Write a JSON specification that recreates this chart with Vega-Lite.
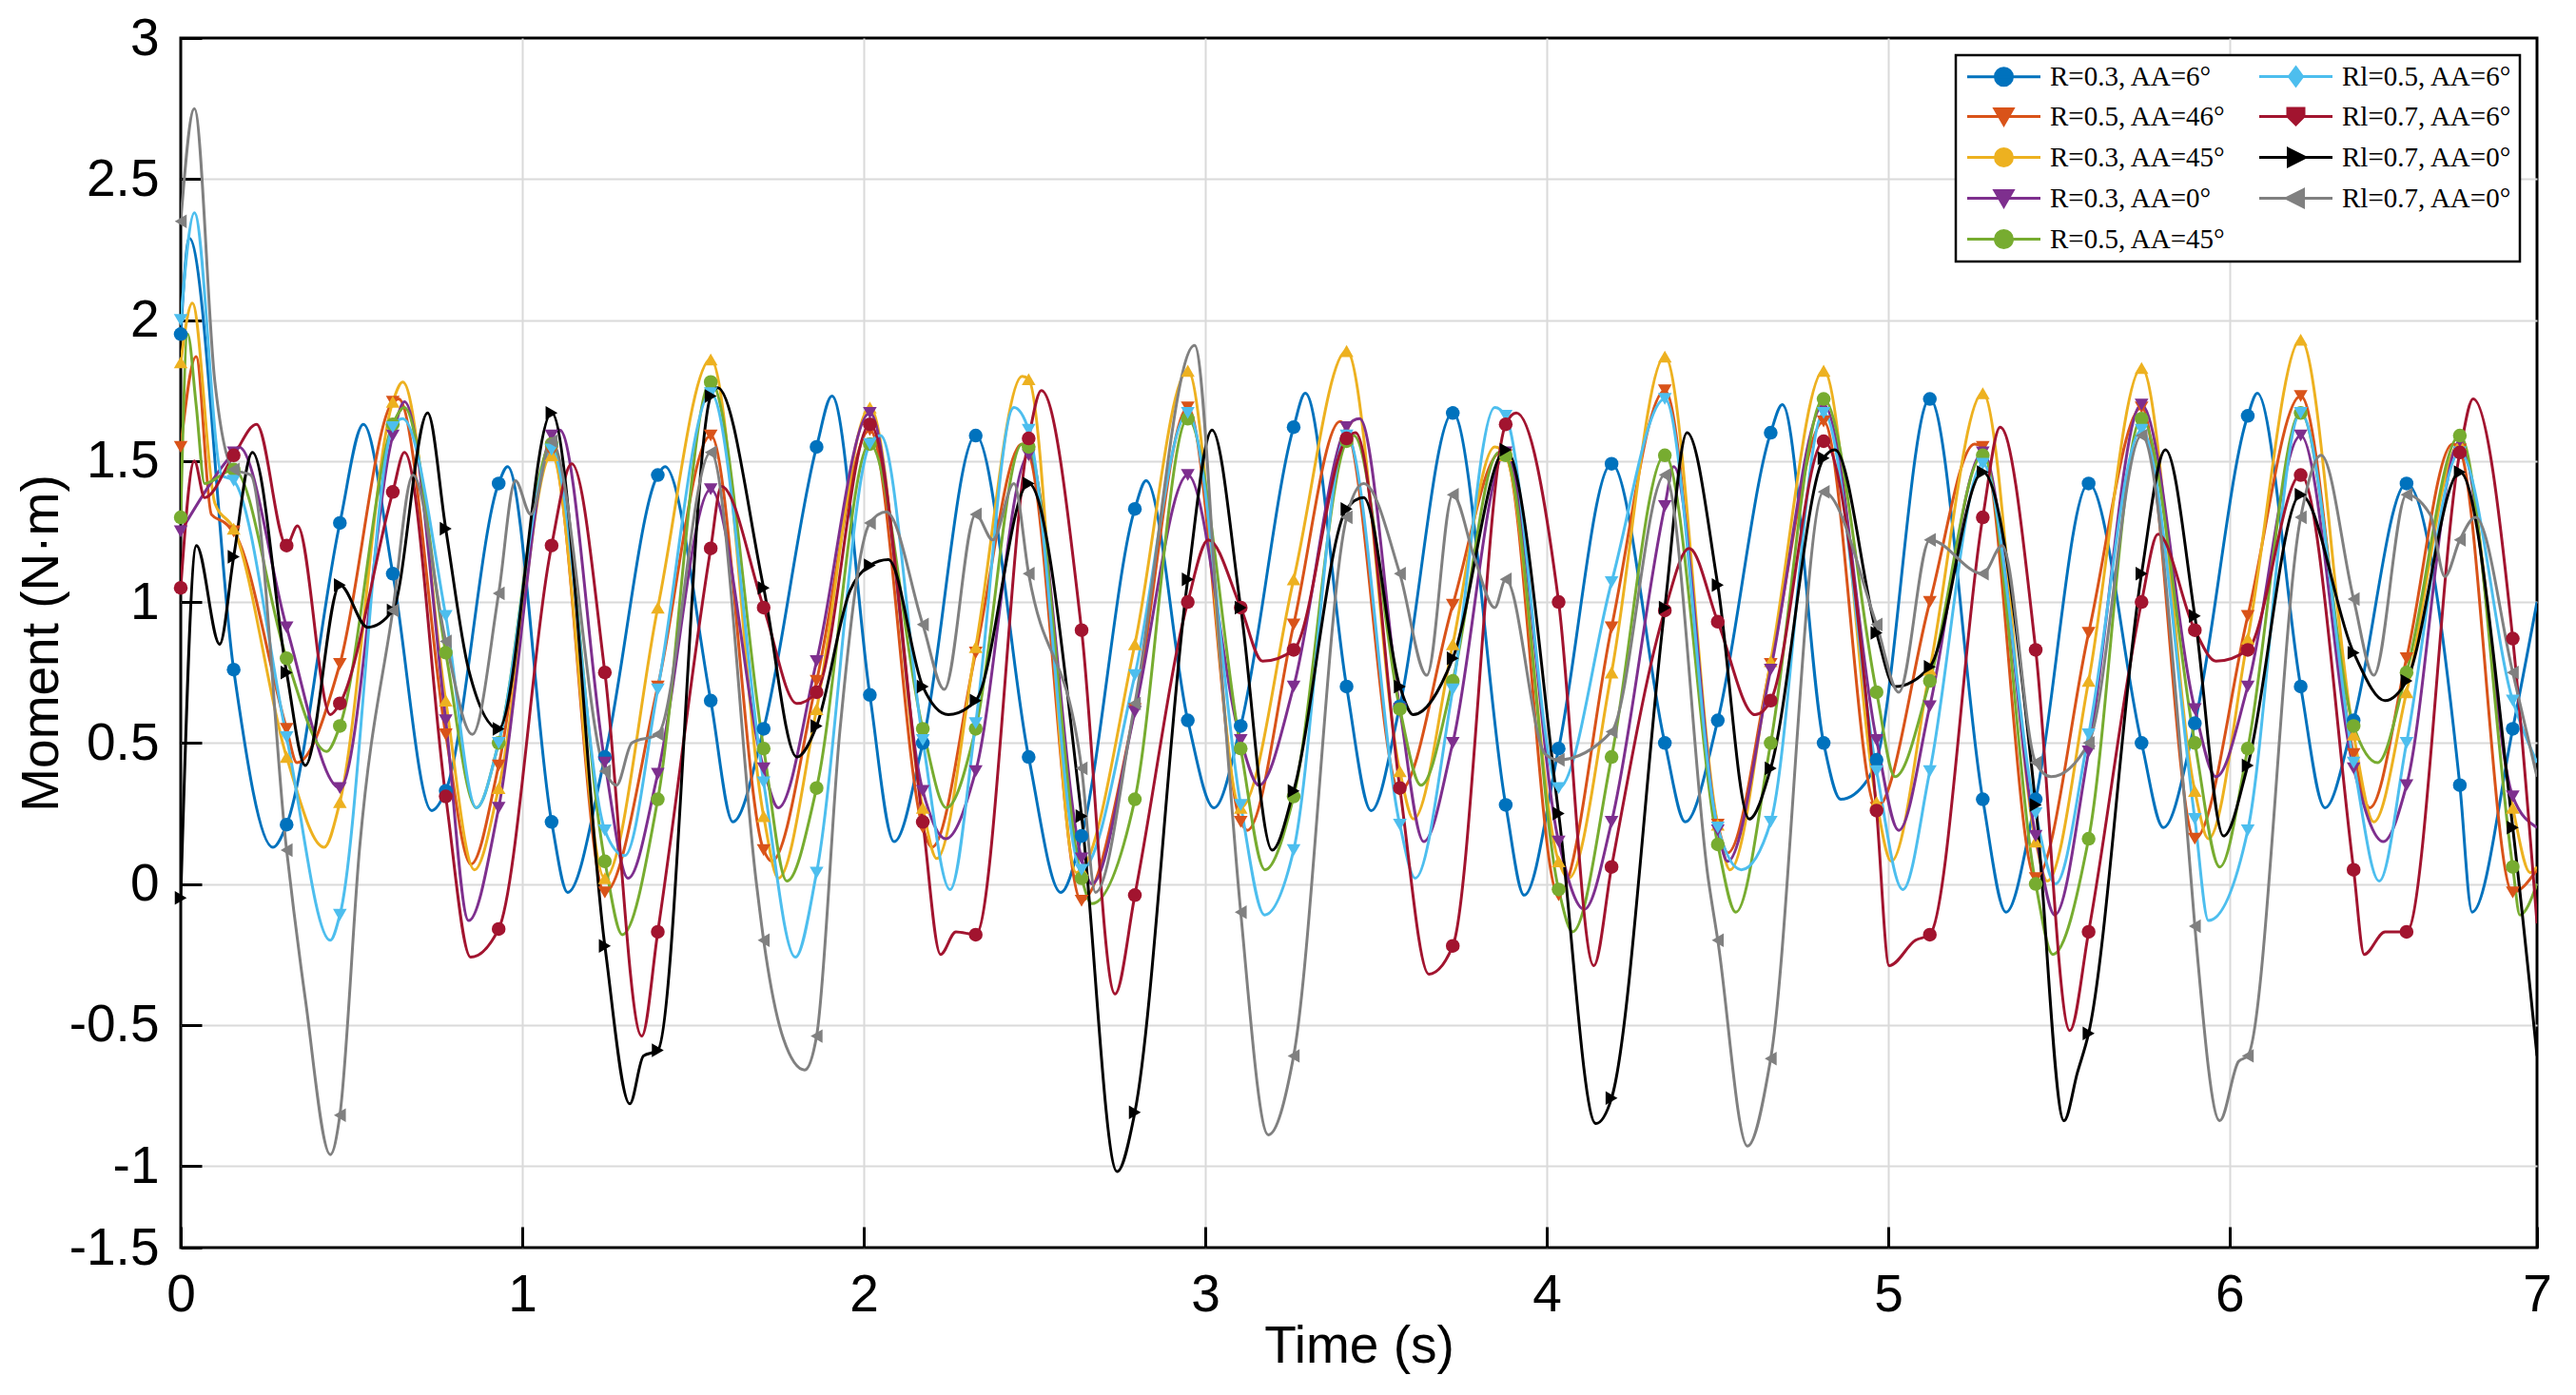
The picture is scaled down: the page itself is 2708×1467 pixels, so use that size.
{
  "$schema": "https://vega.github.io/schema/vega-lite/v6.json",
  "description": "Moment vs time for nine rotor configurations, line + marker series.",
  "width": 2477,
  "height": 1272,
  "autosize": {"type": "none"},
  "padding": {"left": 190, "top": 40, "right": 41, "bottom": 155},
  "background": "white",
  "config": {
    "view": {"stroke": "black", "strokeWidth": 3},
    "axis": {
      "domain": false,
      "grid": true,
      "gridColor": "#dadada",
      "gridWidth": 2,
      "tickColor": "black",
      "tickWidth": 3,
      "tickSize": -22,
      "labelFont": "Liberation Sans",
      "labelFontSize": 55,
      "labelColor": "black",
      "labelPadding": 45,
      "labelFlush": false,
      "labelOverlap": false,
      "titleFont": "Liberation Sans",
      "titleFontSize": 55,
      "titleFontWeight": "normal",
      "titleColor": "black",
      "titlePadding": 0
    },
    "legend": {
      "orient": "top-right",
      "offset": 18,
      "columns": 2,
      "padding": 8,
      "rowPadding": 12,
      "columnPadding": 28,
      "labelFont": "Liberation Serif",
      "labelFontSize": 29,
      "labelColor": "black",
      "labelLimit": 0,
      "symbolSize": 400,
      "symbolStrokeWidth": 3,
      "symbolOffset": 28,
      "labelOffset": 34,
      "strokeColor": "black",
      "strokeWidth": 2.5,
      "fillColor": "white"
    }
  },
  "datasets": {
    "curves": [
      {"s":"a","t":0,"v":1.95},{"s":"a","t":0.025,"v":2.29},{"s":"a","t":0.155,"v":0.76},{"s":"a","t":0.27,"v":0.13},{"s":"a","t":0.31,"v":0.21},{"s":"a","t":0.466,"v":1.28},{"s":"a","t":0.535,"v":1.63},{"s":"a","t":0.621,"v":1.10},{"s":"a","t":0.735,"v":0.26},{"s":"a","t":0.776,"v":0.33},{"s":"a","t":0.931,"v":1.42},{"s":"a","t":0.957,"v":1.48},{"s":"a","t":1.086,"v":0.22},{"s":"a","t":1.133,"v":-0.03},{"s":"a","t":1.242,"v":0.45},{"s":"a","t":1.397,"v":1.45},{"s":"a","t":1.418,"v":1.48},{"s":"a","t":1.552,"v":0.65},{"s":"a","t":1.617,"v":0.22},{"s":"a","t":1.707,"v":0.55},{"s":"a","t":1.862,"v":1.55},{"s":"a","t":1.907,"v":1.73},{"s":"a","t":2.018,"v":0.67},{"s":"a","t":2.089,"v":0.15},{"s":"a","t":2.173,"v":0.50},{"s":"a","t":2.328,"v":1.59},{"s":"a","t":2.483,"v":0.45},{"s":"a","t":2.577,"v":-0.03},{"s":"a","t":2.638,"v":0.17},{"s":"a","t":2.794,"v":1.33},{"s":"a","t":2.827,"v":1.43},{"s":"a","t":2.949,"v":0.58},{"s":"a","t":3.026,"v":0.27},{"s":"a","t":3.104,"v":0.56},{"s":"a","t":3.259,"v":1.62},{"s":"a","t":3.293,"v":1.74},{"s":"a","t":3.414,"v":0.70},{"s":"a","t":3.486,"v":0.26},{"s":"a","t":3.57,"v":0.63},{"s":"a","t":3.725,"v":1.67},{"s":"a","t":3.88,"v":0.28},{"s":"a","t":3.934,"v":-0.04},{"s":"a","t":4.035,"v":0.48},{"s":"a","t":4.19,"v":1.49},{"s":"a","t":4.346,"v":0.50},{"s":"a","t":4.406,"v":0.22},{"s":"a","t":4.501,"v":0.58},{"s":"a","t":4.656,"v":1.60},{"s":"a","t":4.69,"v":1.70},{"s":"a","t":4.811,"v":0.50},{"s":"a","t":4.861,"v":0.30},{"s":"a","t":4.94,"v":0.37},{"s":"a","t":4.966,"v":0.44},{"s":"a","t":5.122,"v":1.72},{"s":"a","t":5.277,"v":0.30},{"s":"a","t":5.345,"v":-0.10},{"s":"a","t":5.432,"v":0.30},{"s":"a","t":5.587,"v":1.42},{"s":"a","t":5.742,"v":0.50},{"s":"a","t":5.806,"v":0.20},{"s":"a","t":5.898,"v":0.57},{"s":"a","t":6.053,"v":1.66},{"s":"a","t":6.081,"v":1.74},{"s":"a","t":6.208,"v":0.70},{"s":"a","t":6.279,"v":0.27},{"s":"a","t":6.363,"v":0.58},{"s":"a","t":6.518,"v":1.42},{"s":"a","t":6.674,"v":0.35},{"s":"a","t":6.71,"v":-0.10},{"s":"a","t":6.829,"v":0.55},{"s":"a","t":6.9,"v":1.0},
      {"s":"c","t":0,"v":1.55},{"s":"c","t":0.045,"v":1.87},{"s":"c","t":0.09,"v":1.31},{"s":"c","t":0.13,"v":1.28},{"s":"c","t":0.155,"v":1.25},{"s":"c","t":0.31,"v":0.55},{"s":"c","t":0.34,"v":0.43},{"s":"c","t":0.466,"v":0.78},{"s":"c","t":0.621,"v":1.71},{"s":"c","t":0.638,"v":1.72},{"s":"c","t":0.776,"v":0.53},{"s":"c","t":0.85,"v":0.07},{"s":"c","t":0.931,"v":0.42},{"s":"c","t":1.086,"v":1.53},{"s":"c","t":1.242,"v":-0.03},{"s":"c","t":1.397,"v":0.70},{"s":"c","t":1.552,"v":1.59},{"s":"c","t":1.707,"v":0.12},{"s":"c","t":1.73,"v":0.08},{"s":"c","t":1.862,"v":0.72},{"s":"c","t":2.018,"v":1.61},{"s":"c","t":2.173,"v":0.20},{"s":"c","t":2.2,"v":0.13},{"s":"c","t":2.328,"v":0.82},{"s":"c","t":2.463,"v":1.56},{"s":"c","t":2.483,"v":1.53},{"s":"c","t":2.638,"v":-0.06},{"s":"c","t":2.794,"v":0.62},{"s":"c","t":2.949,"v":1.69},{"s":"c","t":3.104,"v":0.22},{"s":"c","t":3.123,"v":0.19},{"s":"c","t":3.259,"v":0.92},{"s":"c","t":3.395,"v":1.64},{"s":"c","t":3.414,"v":1.62},{"s":"c","t":3.57,"v":0.33},{"s":"c","t":3.725,"v":0.99},{"s":"c","t":3.865,"v":1.53},{"s":"c","t":3.88,"v":1.52},{"s":"c","t":4.035,"v":-0.04},{"s":"c","t":4.19,"v":0.91},{"s":"c","t":4.346,"v":1.75},{"s":"c","t":4.501,"v":0.21},{"s":"c","t":4.53,"v":0.11},{"s":"c","t":4.656,"v":0.78},{"s":"c","t":4.811,"v":1.64},{"s":"c","t":4.966,"v":0.27},{"s":"c","t":5.122,"v":1.00},{"s":"c","t":5.253,"v":1.56},{"s":"c","t":5.277,"v":1.55},{"s":"c","t":5.432,"v":0.02},{"s":"c","t":5.587,"v":0.89},{"s":"c","t":5.742,"v":1.69},{"s":"c","t":5.898,"v":0.16},{"s":"c","t":6.053,"v":0.95},{"s":"c","t":6.208,"v":1.73},{"s":"c","t":6.363,"v":0.46},{"s":"c","t":6.41,"v":0.27},{"s":"c","t":6.518,"v":0.80},{"s":"c","t":6.653,"v":1.56},{"s":"c","t":6.674,"v":1.54},{"s":"c","t":6.829,"v":-0.03},{"s":"c","t":6.9,"v":0.05},
      {"s":"e","t":0,"v":1.85},{"s":"e","t":0.034,"v":2.06},{"s":"e","t":0.1,"v":1.35},{"s":"e","t":0.155,"v":1.26},{"s":"e","t":0.31,"v":0.45},{"s":"e","t":0.42,"v":0.13},{"s":"e","t":0.466,"v":0.29},{"s":"e","t":0.621,"v":1.71},{"s":"e","t":0.65,"v":1.78},{"s":"e","t":0.776,"v":0.65},{"s":"e","t":0.86,"v":0.05},{"s":"e","t":0.931,"v":0.34},{"s":"e","t":1.086,"v":1.52},{"s":"e","t":1.242,"v":0.02},{"s":"e","t":1.397,"v":0.98},{"s":"e","t":1.552,"v":1.86},{"s":"e","t":1.707,"v":0.24},{"s":"e","t":1.75,"v":0.02},{"s":"e","t":1.862,"v":0.62},{"s":"e","t":2.018,"v":1.69},{"s":"e","t":2.173,"v":0.27},{"s":"e","t":2.214,"v":0.09},{"s":"e","t":2.328,"v":0.84},{"s":"e","t":2.464,"v":1.80},{"s":"e","t":2.483,"v":1.79},{"s":"e","t":2.623,"v":0.04},{"s":"e","t":2.638,"v":0.05},{"s":"e","t":2.794,"v":0.85},{"s":"e","t":2.949,"v":1.82},{"s":"e","t":3.104,"v":0.27},{"s":"e","t":3.259,"v":1.08},{"s":"e","t":3.414,"v":1.89},{"s":"e","t":3.57,"v":0.40},{"s":"e","t":3.61,"v":0.23},{"s":"e","t":3.725,"v":0.85},{"s":"e","t":3.848,"v":1.55},{"s":"e","t":3.88,"v":1.52},{"s":"e","t":4.035,"v":0.08},{"s":"e","t":4.064,"v":0.02},{"s":"e","t":4.19,"v":0.75},{"s":"e","t":4.346,"v":1.87},{"s":"e","t":4.501,"v":0.21},{"s":"e","t":4.537,"v":0.05},{"s":"e","t":4.656,"v":0.79},{"s":"e","t":4.811,"v":1.82},{"s":"e","t":4.966,"v":0.29},{"s":"e","t":5.009,"v":0.08},{"s":"e","t":5.122,"v":0.76},{"s":"e","t":5.277,"v":1.74},{"s":"e","t":5.432,"v":0.15},{"s":"e","t":5.466,"v":0.01},{"s":"e","t":5.587,"v":0.72},{"s":"e","t":5.742,"v":1.83},{"s":"e","t":5.898,"v":0.33},{"s":"e","t":5.938,"v":0.16},{"s":"e","t":6.053,"v":0.87},{"s":"e","t":6.208,"v":1.93},{"s":"e","t":6.363,"v":0.53},{"s":"e","t":6.422,"v":0.22},{"s":"e","t":6.518,"v":0.68},{"s":"e","t":6.674,"v":1.56},{"s":"e","t":6.829,"v":0.27},{"s":"e","t":6.88,"v":0.04},{"s":"e","t":6.9,"v":0.06},
      {"s":"g","t":0,"v":1.25},{"s":"g","t":0.155,"v":1.53},{"s":"g","t":0.17,"v":1.55},{"s":"g","t":0.31,"v":0.91},{"s":"g","t":0.466,"v":0.34},{"s":"g","t":0.621,"v":1.59},{"s":"g","t":0.655,"v":1.71},{"s":"g","t":0.776,"v":0.58},{"s":"g","t":0.843,"v":-0.13},{"s":"g","t":0.931,"v":0.27},{"s":"g","t":1.086,"v":1.59},{"s":"g","t":1.11,"v":1.61},{"s":"g","t":1.242,"v":0.43},{"s":"g","t":1.31,"v":0.02},{"s":"g","t":1.397,"v":0.39},{"s":"g","t":1.552,"v":1.40},{"s":"g","t":1.707,"v":0.41},{"s":"g","t":1.75,"v":0.27},{"s":"g","t":1.862,"v":0.79},{"s":"g","t":2.018,"v":1.67},{"s":"g","t":2.173,"v":0.33},{"s":"g","t":2.24,"v":0.16},{"s":"g","t":2.328,"v":0.40},{"s":"g","t":2.483,"v":1.52},{"s":"g","t":2.638,"v":0.09},{"s":"g","t":2.668,"v":0.0},{"s":"g","t":2.794,"v":0.61},{"s":"g","t":2.949,"v":1.45},{"s":"g","t":3.104,"v":0.51},{"s":"g","t":3.157,"v":0.35},{"s":"g","t":3.259,"v":0.70},{"s":"g","t":3.414,"v":1.62},{"s":"g","t":3.452,"v":1.65},{"s":"g","t":3.57,"v":0.62},{"s":"g","t":3.64,"v":0.15},{"s":"g","t":3.725,"v":0.50},{"s":"g","t":3.88,"v":1.53},{"s":"g","t":4.035,"v":0.15},{"s":"g","t":4.11,"v":-0.09},{"s":"g","t":4.19,"v":0.22},{"s":"g","t":4.346,"v":1.34},{"s":"g","t":4.372,"v":1.48},{"s":"g","t":4.501,"v":0.19},{"s":"g","t":4.53,"v":0.08},{"s":"g","t":4.656,"v":0.76},{"s":"g","t":4.811,"v":1.70},{"s":"g","t":4.966,"v":0.51},{"s":"g","t":5.031,"v":0.19},{"s":"g","t":5.122,"v":0.63},{"s":"g","t":5.277,"v":1.53},{"s":"g","t":5.432,"v":0.17},{"s":"g","t":5.488,"v":-0.11},{"s":"g","t":5.587,"v":0.47},{"s":"g","t":5.742,"v":1.70},{"s":"g","t":5.898,"v":0.62},{"s":"g","t":5.96,"v":0.38},{"s":"g","t":6.053,"v":0.70},{"s":"g","t":6.208,"v":1.59},{"s":"g","t":6.363,"v":0.41},{"s":"g","t":6.45,"v":0.15},{"s":"g","t":6.518,"v":0.35},{"s":"g","t":6.674,"v":1.57},{"s":"g","t":6.829,"v":0.31},{"s":"g","t":6.9,"v":0.20},
      {"s":"i","t":0,"v":1.30},{"s":"i","t":0.02,"v":1.95},{"s":"i","t":0.045,"v":1.70},{"s":"i","t":0.07,"v":1.42},{"s":"i","t":0.155,"v":1.47},{"s":"i","t":0.31,"v":0.80},{"s":"i","t":0.427,"v":0.47},{"s":"i","t":0.466,"v":0.56},{"s":"i","t":0.621,"v":1.63},{"s":"i","t":0.655,"v":1.69},{"s":"i","t":0.776,"v":0.82},{"s":"i","t":0.866,"v":0.27},{"s":"i","t":0.931,"v":0.50},{"s":"i","t":1.086,"v":1.56},{"s":"i","t":1.242,"v":0.08},{"s":"i","t":1.293,"v":-0.18},{"s":"i","t":1.397,"v":0.30},{"s":"i","t":1.552,"v":1.78},{"s":"i","t":1.707,"v":0.48},{"s":"i","t":1.775,"v":0.01},{"s":"i","t":1.862,"v":0.34},{"s":"i","t":2.018,"v":1.56},{"s":"i","t":2.173,"v":0.55},{"s":"i","t":2.242,"v":0.27},{"s":"i","t":2.328,"v":0.55},{"s":"i","t":2.464,"v":1.56},{"s":"i","t":2.483,"v":1.55},{"s":"i","t":2.638,"v":0.02},{"s":"i","t":2.668,"v":-0.07},{"s":"i","t":2.794,"v":0.30},{"s":"i","t":2.949,"v":1.65},{"s":"i","t":3.104,"v":0.48},{"s":"i","t":3.175,"v":0.05},{"s":"i","t":3.259,"v":0.31},{"s":"i","t":3.414,"v":1.57},{"s":"i","t":3.435,"v":1.59},{"s":"i","t":3.57,"v":0.62},{"s":"i","t":3.632,"v":0.35},{"s":"i","t":3.725,"v":0.72},{"s":"i","t":3.86,"v":1.53},{"s":"i","t":3.88,"v":1.52},{"s":"i","t":4.035,"v":-0.02},{"s":"i","t":4.076,"v":-0.17},{"s":"i","t":4.19,"v":0.45},{"s":"i","t":4.346,"v":1.52},{"s":"i","t":4.501,"v":0.14},{"s":"i","t":4.554,"v":-0.10},{"s":"i","t":4.656,"v":0.50},{"s":"i","t":4.811,"v":1.72},{"s":"i","t":4.966,"v":0.68},{"s":"i","t":5.02,"v":0.38},{"s":"i","t":5.122,"v":0.72},{"s":"i","t":5.277,"v":1.52},{"s":"i","t":5.432,"v":0.00},{"s":"i","t":5.482,"v":-0.25},{"s":"i","t":5.587,"v":0.16},{"s":"i","t":5.742,"v":1.65},{"s":"i","t":5.898,"v":0.50},{"s":"i","t":5.971,"v":0.06},{"s":"i","t":6.053,"v":0.48},{"s":"i","t":6.208,"v":1.67},{"s":"i","t":6.363,"v":0.56},{"s":"i","t":6.433,"v":0.43},{"s":"i","t":6.518,"v":0.75},{"s":"i","t":6.674,"v":1.59},{"s":"i","t":6.829,"v":0.06},{"s":"i","t":6.85,"v":-0.11},{"s":"i","t":6.9,"v":0.0},
      {"s":"b","t":0,"v":2.0},{"s":"b","t":0.04,"v":2.38},{"s":"b","t":0.12,"v":1.45},{"s":"b","t":0.155,"v":1.43},{"s":"b","t":0.31,"v":0.52},{"s":"b","t":0.438,"v":-0.20},{"s":"b","t":0.466,"v":-0.11},{"s":"b","t":0.621,"v":1.62},{"s":"b","t":0.65,"v":1.65},{"s":"b","t":0.776,"v":0.95},{"s":"b","t":0.866,"v":0.27},{"s":"b","t":0.931,"v":0.50},{"s":"b","t":1.086,"v":1.54},{"s":"b","t":1.242,"v":0.19},{"s":"b","t":1.30,"v":0.10},{"s":"b","t":1.397,"v":0.69},{"s":"b","t":1.552,"v":1.74},{"s":"b","t":1.707,"v":0.36},{"s":"b","t":1.80,"v":-0.26},{"s":"b","t":1.862,"v":0.04},{"s":"b","t":2.018,"v":1.56},{"s":"b","t":2.049,"v":1.59},{"s":"b","t":2.173,"v":0.51},{"s":"b","t":2.253,"v":-0.02},{"s":"b","t":2.328,"v":0.57},{"s":"b","t":2.44,"v":1.69},{"s":"b","t":2.483,"v":1.61},{"s":"b","t":2.638,"v":0.05},{"s":"b","t":2.794,"v":0.74},{"s":"b","t":2.949,"v":1.67},{"s":"b","t":3.104,"v":0.28},{"s":"b","t":3.174,"v":-0.11},{"s":"b","t":3.259,"v":0.12},{"s":"b","t":3.414,"v":1.59},{"s":"b","t":3.57,"v":0.21},{"s":"b","t":3.615,"v":0.02},{"s":"b","t":3.725,"v":0.69},{"s":"b","t":3.848,"v":1.69},{"s":"b","t":3.88,"v":1.66},{"s":"b","t":4.035,"v":0.34},{"s":"b","t":4.19,"v":1.07},{"s":"b","t":4.346,"v":1.72},{"s":"b","t":4.501,"v":0.20},{"s":"b","t":4.57,"v":0.05},{"s":"b","t":4.656,"v":0.22},{"s":"b","t":4.811,"v":1.67},{"s":"b","t":4.966,"v":0.40},{"s":"b","t":5.043,"v":-0.02},{"s":"b","t":5.122,"v":0.40},{"s":"b","t":5.277,"v":1.49},{"s":"b","t":5.432,"v":0.25},{"s":"b","t":5.49,"v":0.00},{"s":"b","t":5.587,"v":0.53},{"s":"b","t":5.742,"v":1.61},{"s":"b","t":5.898,"v":0.23},{"s":"b","t":5.938,"v":-0.13},{"s":"b","t":6.053,"v":0.19},{"s":"b","t":6.208,"v":1.67},{"s":"b","t":6.363,"v":0.43},{"s":"b","t":6.438,"v":0.01},{"s":"b","t":6.518,"v":0.50},{"s":"b","t":6.674,"v":1.53},{"s":"b","t":6.829,"v":0.65},{"s":"b","t":6.9,"v":0.43},
      {"s":"d","t":0,"v":1.05},{"s":"d","t":0.04,"v":1.50},{"s":"d","t":0.07,"v":1.37},{"s":"d","t":0.155,"v":1.52},{"s":"d","t":0.222,"v":1.63},{"s":"d","t":0.31,"v":1.20},{"s":"d","t":0.342,"v":1.27},{"s":"d","t":0.438,"v":0.60},{"s":"d","t":0.466,"v":0.64},{"s":"d","t":0.621,"v":1.39},{"s":"d","t":0.655,"v":1.53},{"s":"d","t":0.776,"v":0.31},{"s":"d","t":0.849,"v":-0.26},{"s":"d","t":0.931,"v":-0.16},{"s":"d","t":1.086,"v":1.20},{"s":"d","t":1.145,"v":1.49},{"s":"d","t":1.242,"v":0.75},{"s":"d","t":1.35,"v":-0.54},{"s":"d","t":1.397,"v":-0.17},{"s":"d","t":1.552,"v":1.19},{"s":"d","t":1.583,"v":1.41},{"s":"d","t":1.707,"v":0.98},{"s":"d","t":1.804,"v":0.64},{"s":"d","t":1.862,"v":0.68},{"s":"d","t":2.018,"v":1.63},{"s":"d","t":2.173,"v":0.22},{"s":"d","t":2.225,"v":-0.25},{"s":"d","t":2.27,"v":-0.17},{"s":"d","t":2.328,"v":-0.18},{"s":"d","t":2.483,"v":1.58},{"s":"d","t":2.52,"v":1.75},{"s":"d","t":2.638,"v":0.90},{"s":"d","t":2.736,"v":-0.39},{"s":"d","t":2.794,"v":-0.04},{"s":"d","t":2.949,"v":1.00},{"s":"d","t":3.009,"v":1.22},{"s":"d","t":3.104,"v":0.98},{"s":"d","t":3.168,"v":0.79},{"s":"d","t":3.259,"v":0.83},{"s":"d","t":3.414,"v":1.58},{"s":"d","t":3.44,"v":1.60},{"s":"d","t":3.57,"v":0.34},{"s":"d","t":3.655,"v":-0.32},{"s":"d","t":3.725,"v":-0.22},{"s":"d","t":3.88,"v":1.63},{"s":"d","t":3.911,"v":1.67},{"s":"d","t":4.035,"v":1.00},{"s":"d","t":4.138,"v":-0.29},{"s":"d","t":4.19,"v":0.06},{"s":"d","t":4.346,"v":0.97},{"s":"d","t":4.417,"v":1.19},{"s":"d","t":4.501,"v":0.93},{"s":"d","t":4.61,"v":0.60},{"s":"d","t":4.656,"v":0.65},{"s":"d","t":4.811,"v":1.57},{"s":"d","t":4.966,"v":0.26},{"s":"d","t":5.003,"v":-0.29},{"s":"d","t":5.08,"v":-0.20},{"s":"d","t":5.122,"v":-0.18},{"s":"d","t":5.277,"v":1.30},{"s":"d","t":5.328,"v":1.62},{"s":"d","t":5.432,"v":0.83},{"s":"d","t":5.532,"v":-0.52},{"s":"d","t":5.587,"v":-0.17},{"s":"d","t":5.742,"v":1.00},{"s":"d","t":5.79,"v":1.24},{"s":"d","t":5.898,"v":0.90},{"s":"d","t":5.96,"v":0.79},{"s":"d","t":6.053,"v":0.83},{"s":"d","t":6.208,"v":1.45},{"s":"d","t":6.363,"v":0.05},{"s":"d","t":6.394,"v":-0.25},{"s":"d","t":6.455,"v":-0.17},{"s":"d","t":6.518,"v":-0.17},{"s":"d","t":6.674,"v":1.53},{"s":"d","t":6.713,"v":1.72},{"s":"d","t":6.829,"v":0.87},{"s":"d","t":6.9,"v":-0.14},
      {"s":"f","t":0,"v":-0.05},{"s":"f","t":0.046,"v":1.20},{"s":"f","t":0.114,"v":0.85},{"s":"f","t":0.155,"v":1.16},{"s":"f","t":0.21,"v":1.53},{"s":"f","t":0.31,"v":0.75},{"s":"f","t":0.365,"v":0.42},{"s":"f","t":0.466,"v":1.06},{"s":"f","t":0.547,"v":0.91},{"s":"f","t":0.621,"v":0.97},{"s":"f","t":0.723,"v":1.67},{"s":"f","t":0.776,"v":1.26},{"s":"f","t":0.843,"v":0.76},{"s":"f","t":0.931,"v":0.55},{"s":"f","t":1.086,"v":1.67},{"s":"f","t":1.242,"v":-0.22},{"s":"f","t":1.315,"v":-0.78},{"s":"f","t":1.355,"v":-0.61},{"s":"f","t":1.397,"v":-0.59},{"s":"f","t":1.552,"v":1.73},{"s":"f","t":1.572,"v":1.76},{"s":"f","t":1.707,"v":1.05},{"s":"f","t":1.804,"v":0.45},{"s":"f","t":1.862,"v":0.56},{"s":"f","t":1.96,"v":1.04},{"s":"f","t":2.018,"v":1.13},{"s":"f","t":2.072,"v":1.15},{"s":"f","t":2.173,"v":0.70},{"s":"f","t":2.248,"v":0.60},{"s":"f","t":2.328,"v":0.65},{"s":"f","t":2.483,"v":1.42},{"s":"f","t":2.638,"v":0.24},{"s":"f","t":2.742,"v":-1.02},{"s":"f","t":2.794,"v":-0.81},{"s":"f","t":2.949,"v":1.08},{"s":"f","t":3.02,"v":1.61},{"s":"f","t":3.104,"v":0.98},{"s":"f","t":3.196,"v":0.12},{"s":"f","t":3.259,"v":0.33},{"s":"f","t":3.414,"v":1.33},{"s":"f","t":3.464,"v":1.37},{"s":"f","t":3.57,"v":0.70},{"s":"f","t":3.609,"v":0.60},{"s":"f","t":3.725,"v":0.80},{"s":"f","t":3.88,"v":1.54},{"s":"f","t":4.035,"v":0.25},{"s":"f","t":4.144,"v":-0.85},{"s":"f","t":4.19,"v":-0.76},{"s":"f","t":4.346,"v":0.98},{"s":"f","t":4.411,"v":1.60},{"s":"f","t":4.501,"v":1.06},{"s":"f","t":4.593,"v":0.23},{"s":"f","t":4.656,"v":0.41},{"s":"f","t":4.811,"v":1.51},{"s":"f","t":4.844,"v":1.54},{"s":"f","t":4.966,"v":0.89},{"s":"f","t":5.02,"v":0.70},{"s":"f","t":5.122,"v":0.77},{"s":"f","t":5.277,"v":1.46},{"s":"f","t":5.432,"v":0.28},{"s":"f","t":5.515,"v":-0.84},{"s":"f","t":5.554,"v":-0.67},{"s":"f","t":5.587,"v":-0.53},{"s":"f","t":5.742,"v":1.10},{"s":"f","t":5.812,"v":1.54},{"s":"f","t":5.898,"v":0.95},{"s":"f","t":5.982,"v":0.17},{"s":"f","t":6.053,"v":0.42},{"s":"f","t":6.208,"v":1.38},{"s":"f","t":6.363,"v":0.82},{"s":"f","t":6.455,"v":0.65},{"s":"f","t":6.518,"v":0.72},{"s":"f","t":6.674,"v":1.46},{"s":"f","t":6.829,"v":0.20},{"s":"f","t":6.9,"v":-0.61},
      {"s":"h","t":0,"v":2.35},{"s":"h","t":0.04,"v":2.75},{"s":"h","t":0.1,"v":1.78},{"s":"h","t":0.155,"v":1.47},{"s":"h","t":0.205,"v":1.45},{"s":"h","t":0.31,"v":0.12},{"s":"h","t":0.365,"v":-0.41},{"s":"h","t":0.438,"v":-0.96},{"s":"h","t":0.466,"v":-0.82},{"s":"h","t":0.524,"v":0.13},{"s":"h","t":0.621,"v":0.97},{"s":"h","t":0.68,"v":1.45},{"s":"h","t":0.776,"v":0.86},{"s":"h","t":0.854,"v":0.53},{"s":"h","t":0.931,"v":1.03},{"s":"h","t":0.98,"v":1.43},{"s":"h","t":1.025,"v":1.31},{"s":"h","t":1.086,"v":1.57},{"s":"h","t":1.242,"v":0.40},{"s":"h","t":1.276,"v":0.35},{"s":"h","t":1.321,"v":0.50},{"s":"h","t":1.397,"v":0.53},{"s":"h","t":1.552,"v":1.53},{"s":"h","t":1.686,"v":0.0},{"s":"h","t":1.707,"v":-0.20},{"s":"h","t":1.765,"v":-0.55},{"s":"h","t":1.827,"v":-0.66},{"s":"h","t":1.862,"v":-0.54},{"s":"h","t":1.93,"v":0.54},{"s":"h","t":2.018,"v":1.28},{"s":"h","t":2.066,"v":1.32},{"s":"h","t":2.173,"v":0.92},{"s":"h","t":2.236,"v":0.69},{"s":"h","t":2.328,"v":1.31},{"s":"h","t":2.378,"v":1.22},{"s":"h","t":2.44,"v":1.42},{"s":"h","t":2.483,"v":1.10},{"s":"h","t":2.638,"v":0.41},{"s":"h","t":2.679,"v":-0.03},{"s":"h","t":2.794,"v":0.64},{"s":"h","t":2.969,"v":1.91},{"s":"h","t":3.043,"v":0.82},{"s":"h","t":3.104,"v":-0.10},{"s":"h","t":3.185,"v":-0.89},{"s":"h","t":3.259,"v":-0.61},{"s":"h","t":3.414,"v":1.30},{"s":"h","t":3.464,"v":1.42},{"s":"h","t":3.57,"v":1.10},{"s":"h","t":3.649,"v":0.74},{"s":"h","t":3.725,"v":1.38},{"s":"h","t":3.79,"v":1.15},{"s":"h","t":3.848,"v":0.98},{"s":"h","t":3.88,"v":1.08},{"s":"h","t":3.996,"v":0.46},{"s":"h","t":4.035,"v":0.44},{"s":"h","t":4.19,"v":0.54},{"s":"h","t":4.346,"v":1.45},{"s":"h","t":4.474,"v":0.01},{"s":"h","t":4.501,"v":-0.20},{"s":"h","t":4.588,"v":-0.93},{"s":"h","t":4.656,"v":-0.62},{"s":"h","t":4.811,"v":1.39},{"s":"h","t":4.966,"v":0.92},{"s":"h","t":5.031,"v":0.68},{"s":"h","t":5.122,"v":1.22},{"s":"h","t":5.277,"v":1.10},{"s":"h","t":5.334,"v":1.20},{"s":"h","t":5.432,"v":0.43},{"s":"h","t":5.477,"v":0.38},{"s":"h","t":5.587,"v":0.50},{"s":"h","t":5.742,"v":1.59},{"s":"h","t":5.872,"v":0.24},{"s":"h","t":5.898,"v":-0.15},{"s":"h","t":5.971,"v":-0.84},{"s":"h","t":6.026,"v":-0.63},{"s":"h","t":6.053,"v":-0.61},{"s":"h","t":6.208,"v":1.30},{"s":"h","t":6.268,"v":1.52},{"s":"h","t":6.363,"v":1.01},{"s":"h","t":6.422,"v":0.74},{"s":"h","t":6.518,"v":1.38},{"s":"h","t":6.587,"v":1.31},{"s":"h","t":6.63,"v":1.09},{"s":"h","t":6.674,"v":1.22},{"s":"h","t":6.72,"v":1.30},{"s":"h","t":6.829,"v":0.75},{"s":"h","t":6.9,"v":0.38}
    ]
  },
  "data": {"name": "curves"},
  "encoding": {
    "x": {
      "field": "t",
      "type": "quantitative",
      "scale": {"domain": [0, 6.9], "nice": false, "zero": false},
      "axis": {
        "title": "Time (s)",
        "values": [0, 1, 2, 3, 4, 5, 6, 6.9],
        "labelExpr": "datum.value > 6.5 ? '7' : toString(datum.value)",
        "gridOpacity": {"condition": {"test": "datum.value == 0 || datum.value > 6.5", "value": 0}, "value": 1}
      }
    },
    "y": {
      "field": "v",
      "type": "quantitative",
      "scale": {"domain": [-1.29, 3], "nice": false, "zero": false},
      "axis": {
        "title": "Moment (N·m)",
        "values": [-1.29, -1, -0.5, 0, 0.5, 1, 1.5, 2, 2.5, 3],
        "labelExpr": "datum.value < -1.2 ? '-1.5' : toString(datum.value)",
        "gridOpacity": {"condition": {"test": "datum.value < -1.2 || datum.value > 2.9", "value": 0}, "value": 1}
      }
    }
  },
  "layer": [
    {
      "mark": {"type": "line", "interpolate": "monotone", "strokeWidth": 3, "strokeJoin": "round", "clip": true},
      "encoding": {
        "color": {
          "field": "s", "type": "nominal",
          "scale": {"domain": ["a","c","e","g","i","b","d","f","h"], "range": ["#0072BD","#D95319","#EDB120","#7E2F8E","#77AC30","#4DBEEE","#A2142F","#000000","#808080"]},
          "legend": null
        }
      }
    },
    {
      "transform": [{"filter": "abs(datum.t / 0.1552 - round(datum.t / 0.1552)) < 0.005"}],
      "mark": {"type": "point", "filled": true, "opacity": 1, "size": 210},
      "encoding": {
        "color": {
          "field": "s", "type": "nominal",
          "scale": {"domain": ["a","c","e","g","i","b","d","f","h"], "range": ["#0072BD","#D95319","#EDB120","#7E2F8E","#77AC30","#4DBEEE","#A2142F","#000000","#808080"]},
          "legend": null
        },
        "shape": {
          "field": "s", "type": "nominal",
          "scale": {"domain": ["a","c","e","g","i","b","d","f","h"], "range": ["circle","triangle-down","triangle-up","triangle-down","circle","triangle-down","circle","triangle-right","triangle-left"]},
          "legend": null
        }
      }
    },
    {
      "transform": [{"filter": "false"}],
      "mark": {"type": "point", "filled": true, "opacity": 1, "size": 400, "strokeWidth": 3},
      "encoding": {
        "fill": {
          "field": "s", "type": "nominal",
          "scale": {"domain": ["a","c","e","g","i","b","d","f","h"], "range": ["#0072BD","#D95319","#EDB120","#7E2F8E","#77AC30","#4DBEEE","#A2142F","#000000","#808080"]},
          "legend": {"title": null, "labelExpr": "datum.value == 'a' ? 'R=0.3, AA=6°' : datum.value == 'b' ? 'Rl=0.5, AA=6°' : datum.value == 'c' ? 'R=0.5, AA=46°' : datum.value == 'd' ? 'Rl=0.7, AA=6°' : datum.value == 'e' ? 'R=0.3, AA=45°' : datum.value == 'f' ? 'Rl=0.7, AA=0°' : datum.value == 'g' ? 'R=0.3, AA=0°' : datum.value == 'h' ? 'Rl=0.7, AA=0°' : 'R=0.5, AA=45°'"}
        },
        "stroke": {
          "field": "s", "type": "nominal",
          "scale": {"domain": ["a","c","e","g","i","b","d","f","h"], "range": ["#0072BD","#D95319","#EDB120","#7E2F8E","#77AC30","#4DBEEE","#A2142F","#000000","#808080"]},
          "legend": {"title": null, "labelExpr": "datum.value == 'a' ? 'R=0.3, AA=6°' : datum.value == 'b' ? 'Rl=0.5, AA=6°' : datum.value == 'c' ? 'R=0.5, AA=46°' : datum.value == 'd' ? 'Rl=0.7, AA=6°' : datum.value == 'e' ? 'R=0.3, AA=45°' : datum.value == 'f' ? 'Rl=0.7, AA=0°' : datum.value == 'g' ? 'R=0.3, AA=0°' : datum.value == 'h' ? 'Rl=0.7, AA=0°' : 'R=0.5, AA=45°'"}
        },
        "shape": {
          "field": "s", "type": "nominal",
          "scale": {"domain": ["a","c","e","g","i","b","d","f","h"], "range": [
            "M-3.85,0H3.85M0.9,0A0.9,0.9,0,1,1,-0.9,0A0.9,0.9,0,1,1,0.9,0Z",
            "M-3.85,0H3.85M-0.95,-0.8L0.95,-0.8L0,0.85Z",
            "M-3.85,0H3.85M0.9,0A0.9,0.9,0,1,1,-0.9,0A0.9,0.9,0,1,1,0.9,0Z",
            "M-3.85,0H3.85M-0.95,-0.8L0.95,-0.8L0,0.85Z",
            "M-3.85,0H3.85M0.9,0A0.9,0.9,0,1,1,-0.9,0A0.9,0.9,0,1,1,0.9,0Z",
            "M-3.85,0H3.85M0,-0.95L0.7,0L0,0.95L-0.7,0Z",
            "M-3.85,0H3.85M-0.85,-0.85L0.85,-0.85L0.85,0L0,0.85L-0.85,0Z",
            "M-3.85,0H3.85M-0.8,-0.9L1,0L-0.8,0.9Z",
            "M-3.85,0H3.85M0.8,-0.9L-1,0L0.8,0.9Z"
          ]},
          "legend": {"title": null, "labelExpr": "datum.value == 'a' ? 'R=0.3, AA=6°' : datum.value == 'b' ? 'Rl=0.5, AA=6°' : datum.value == 'c' ? 'R=0.5, AA=46°' : datum.value == 'd' ? 'Rl=0.7, AA=6°' : datum.value == 'e' ? 'R=0.3, AA=45°' : datum.value == 'f' ? 'Rl=0.7, AA=0°' : datum.value == 'g' ? 'R=0.3, AA=0°' : datum.value == 'h' ? 'Rl=0.7, AA=0°' : 'R=0.5, AA=45°'"}
        }
      }
    }
  ],
  "resolve": {"scale": {"color": "independent", "shape": "independent", "fill": "independent", "stroke": "independent"}}
}
